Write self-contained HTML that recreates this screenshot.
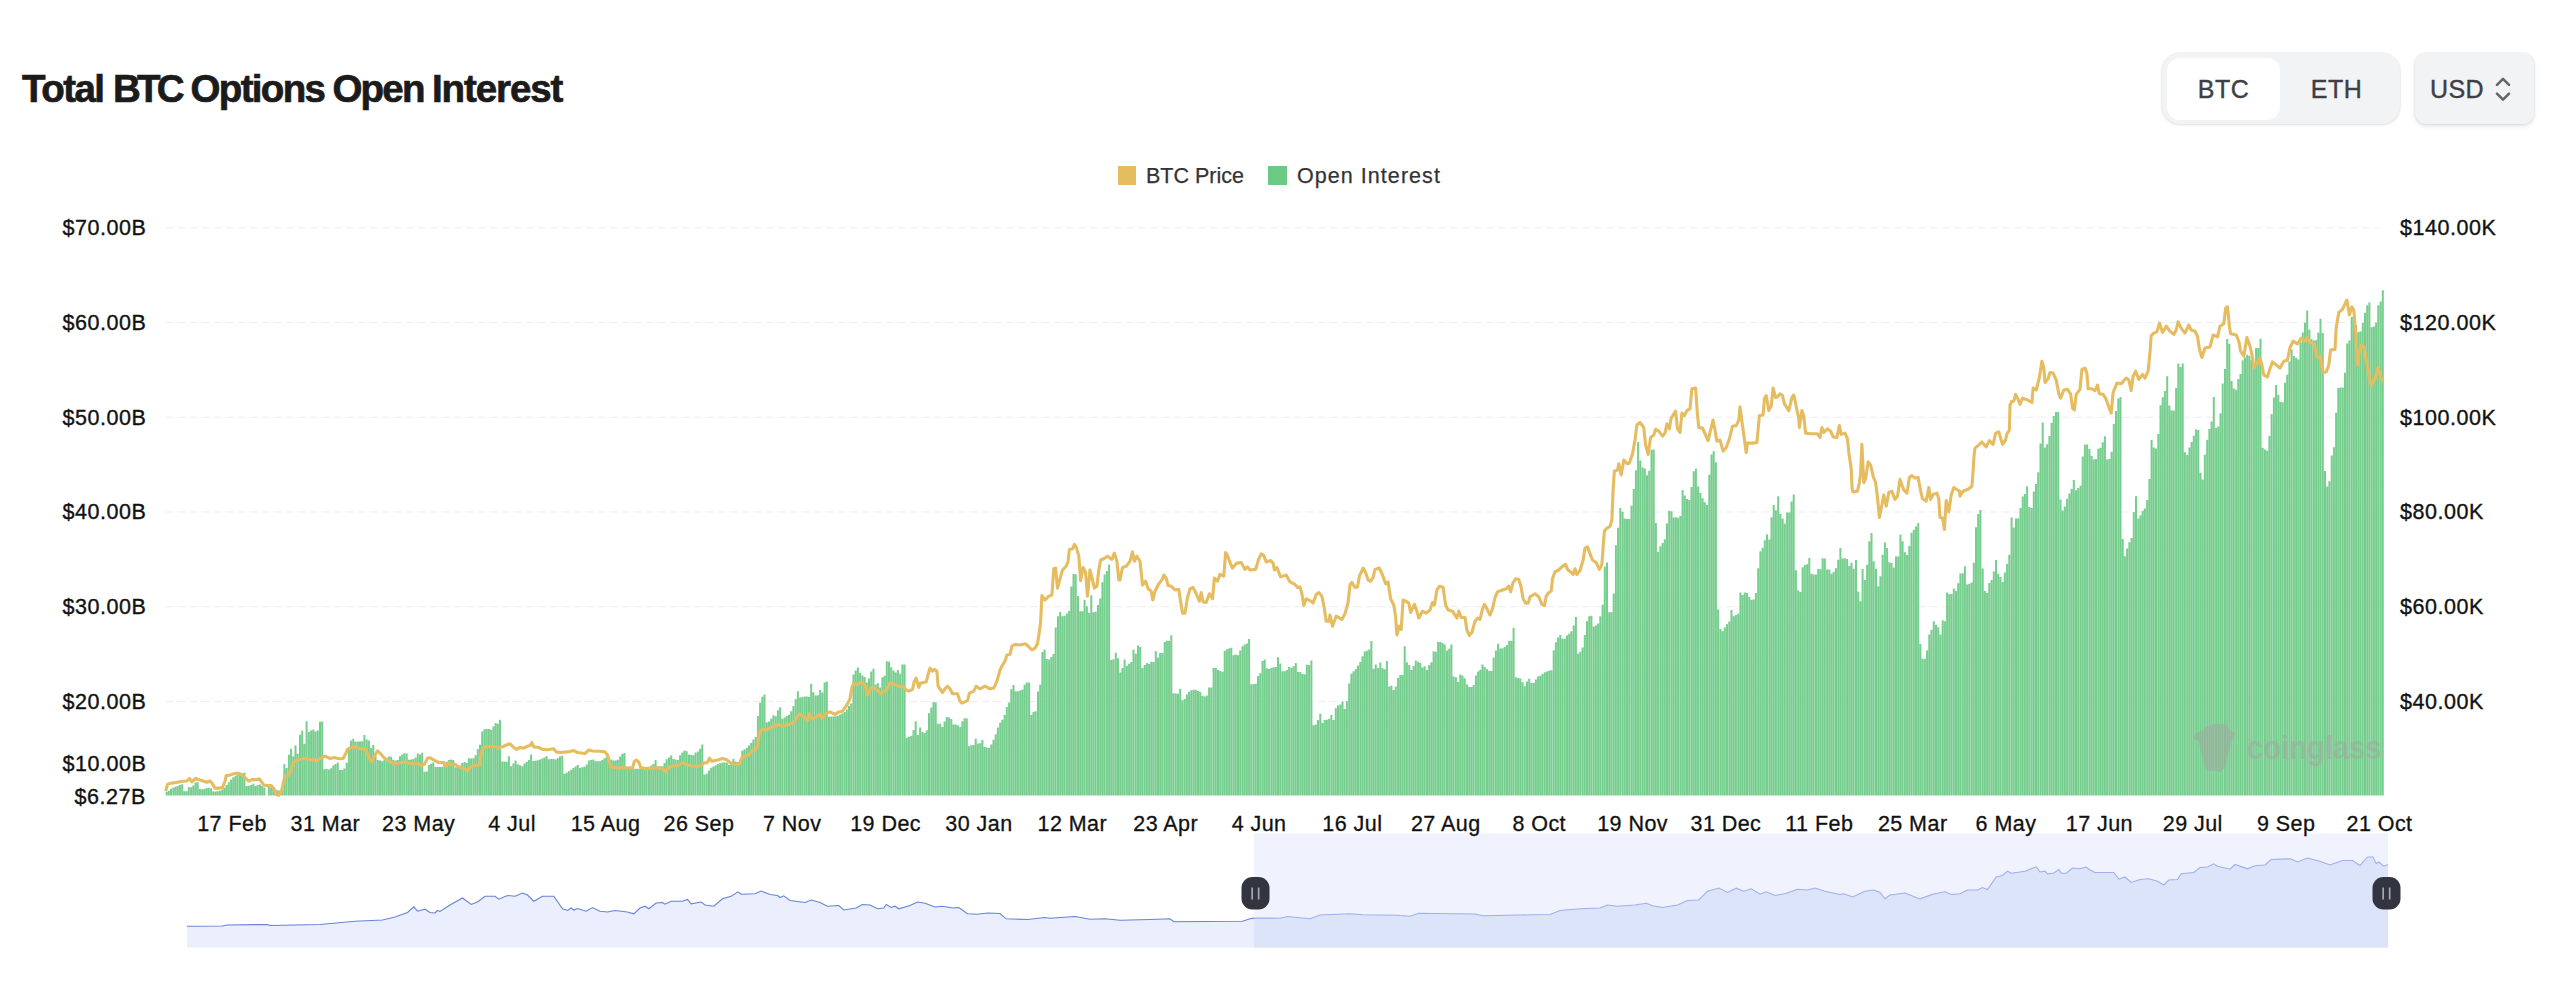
<!DOCTYPE html>
<html lang="en"><head><meta charset="utf-8"><title>Total BTC Options Open Interest</title>
<style>
html,body{margin:0;padding:0;background:#fff;}
body{width:2560px;height:999px;position:relative;overflow:hidden;font-family:"Liberation Sans",sans-serif;}
.title{position:absolute;left:0;top:66px;font-size:38.5px;line-height:46px;font-weight:700;color:#1b1b1b;white-space:nowrap;-webkit-text-stroke:.7px #1b1b1b;}
.title span{position:absolute;top:0;}
.seg{position:absolute;left:2162px;top:52.5px;width:237.5px;height:71.5px;border-radius:18px;background:#f1f3f5;box-shadow:0 1px 3px rgba(0,0,0,.10),0 0 0 1px rgba(0,0,0,.03);}
.seg .pill{position:absolute;left:5px;top:5.5px;width:113px;height:61.5px;border-radius:13px;background:#fff;}
.seg span{position:absolute;top:0;height:71.5px;line-height:72px;font-size:25px;letter-spacing:.5px;color:#3d3f45;-webkit-text-stroke:.4px #3d3f45;text-align:center;width:113px;}
.usd{position:absolute;left:2414.5px;top:53px;width:119.5px;height:71px;border-radius:11px;background:#f1f3f5;box-shadow:0 2px 4px rgba(0,0,0,.12),0 0 0 1px rgba(0,0,0,.03);}
.usd span{position:absolute;left:15.5px;top:0;line-height:72px;font-size:25px;letter-spacing:.4px;color:#3d3f45;-webkit-text-stroke:.4px #3d3f45;}
.usd svg{position:absolute;left:78.5px;top:21px;}
.legend{position:absolute;top:167px;left:0;height:19px;}
.legend i{position:absolute;top:-1px;width:18.5px;height:18.5px;}
.legend span{position:absolute;top:-4px;font-size:21.5px;line-height:26px;color:#333;white-space:nowrap;-webkit-text-stroke:.25px #333;}
svg.chart{position:absolute;left:0;top:0;}
.ax{font-family:"Liberation Sans",sans-serif;font-size:21.5px;fill:#111;letter-spacing:.55px;stroke:#111;stroke-width:.35px;}
.xl{font-family:"Liberation Sans",sans-serif;font-size:21.5px;fill:#111;letter-spacing:.45px;stroke:#111;stroke-width:.3px;}
</style></head><body>
<svg class="chart" width="2560" height="999" viewBox="0 0 2560 999"><line x1="165.6" x2="2380" y1="227.8" y2="227.8" stroke="#eeeeee" stroke-width="1" stroke-dasharray="8 4"/><line x1="165.6" x2="2380" y1="322.5" y2="322.5" stroke="#eeeeee" stroke-width="1" stroke-dasharray="8 4"/><line x1="165.6" x2="2380" y1="417.2" y2="417.2" stroke="#eeeeee" stroke-width="1" stroke-dasharray="8 4"/><line x1="165.6" x2="2380" y1="512" y2="512" stroke="#eeeeee" stroke-width="1" stroke-dasharray="8 4"/><line x1="165.6" x2="2380" y1="606.7" y2="606.7" stroke="#eeeeee" stroke-width="1" stroke-dasharray="8 4"/><line x1="165.6" x2="2380" y1="701.4" y2="701.4" stroke="#eeeeee" stroke-width="1" stroke-dasharray="8 4"/><path d="M165.6 795.5V791.9h2.0V795.5zM167.8 795.5V790.7h2.0V795.5zM170 795.5V788.8h2.0V795.5zM172.3 795.5V787.7h2.0V795.5zM174.5 795.5V786.7h2.0V795.5zM176.7 795.5V785.9h2.0V795.5zM178.9 795.5V785.1h2.0V795.5zM181.2 795.5V784.2h2.0V795.5zM183.4 795.5V791.2h2.0V795.5zM185.6 795.5V791.2h2.0V795.5zM187.8 795.5V787h2.0V795.5zM190.1 795.5V787.3h2.0V795.5zM192.3 795.5V785.5h2.0V795.5zM194.5 795.5V782.4h2.0V795.5zM196.7 795.5V782.3h2.0V795.5zM198.9 795.5V788.9h2.0V795.5zM201.2 795.5V789.2h2.0V795.5zM203.4 795.5V789h2.0V795.5zM205.6 795.5V788h2.0V795.5zM207.8 795.5V787.7h2.0V795.5zM210.1 795.5V788.3h2.0V795.5zM212.3 795.5V791.6h2.0V795.5zM214.5 795.5V791.5h2.0V795.5zM216.7 795.5V791.2h2.0V795.5zM218.9 795.5V790.8h2.0V795.5zM221.2 795.5V789.6h2.0V795.5zM223.4 795.5V787.7h2.0V795.5zM225.6 795.5V785.1h2.0V795.5zM227.8 795.5V782.3h2.0V795.5zM230.1 795.5V779.5h2.0V795.5zM232.3 795.5V777.3h2.0V795.5zM234.5 795.5V775.8h2.0V795.5zM236.7 795.5V774.7h2.0V795.5zM239 795.5V773.7h2.0V795.5zM241.2 795.5V773.2h2.0V795.5zM243.4 795.5V772.7h2.0V795.5zM245.6 795.5V786.1h2.0V795.5zM247.8 795.5V785.7h2.0V795.5zM250.1 795.5V784.9h2.0V795.5zM252.3 795.5V783.8h2.0V795.5zM254.5 795.5V786.1h2.0V795.5zM256.7 795.5V784.8h2.0V795.5zM259 795.5V784.6h2.0V795.5zM261.2 795.5V786h2.0V795.5zM263.4 795.5V787.4h2.0V795.5zM267.9 795.5V787.1h2.0V795.5zM270.1 795.5V787.6h2.0V795.5zM272.3 795.5V788.6h2.0V795.5zM274.5 795.5V789.6h2.0V795.5zM276.7 795.5V790.2h2.0V795.5zM279 795.5V790.5h2.0V795.5zM281.2 795.5V790.2h2.0V795.5zM283.4 795.5V764.2h2.0V795.5zM285.6 795.5V768.1h2.0V795.5zM287.9 795.5V754.7h2.0V795.5zM290.1 795.5V748.8h2.0V795.5zM292.3 795.5V756.2h2.0V795.5zM294.5 795.5V745.6h2.0V795.5zM296.7 795.5V753.8h2.0V795.5zM299 795.5V734.7h2.0V795.5zM301.2 795.5V730.7h2.0V795.5zM303.4 795.5V743.8h2.0V795.5zM305.6 795.5V721.2h2.0V795.5zM307.9 795.5V731.9h2.0V795.5zM310.1 795.5V730.6h2.0V795.5zM312.3 795.5V729.4h2.0V795.5zM314.5 795.5V731.5h2.0V795.5zM316.8 795.5V730.6h2.0V795.5zM319 795.5V721.7h2.0V795.5zM321.2 795.5V721.4h2.0V795.5zM323.4 795.5V769.2h2.0V795.5zM325.6 795.5V768.9h2.0V795.5zM327.9 795.5V769.5h2.0V795.5zM330.1 795.5V768.3h2.0V795.5zM332.3 795.5V765.6h2.0V795.5zM334.5 795.5V763.9h2.0V795.5zM336.8 795.5V762.5h2.0V795.5zM339 795.5V770h2.0V795.5zM341.2 795.5V770h2.0V795.5zM343.4 795.5V768.5h2.0V795.5zM345.7 795.5V762.7h2.0V795.5zM347.9 795.5V749.1h2.0V795.5zM350.1 795.5V740.4h2.0V795.5zM352.3 795.5V738.8h2.0V795.5zM354.5 795.5V741.8h2.0V795.5zM356.8 795.5V741.6h2.0V795.5zM359 795.5V741.5h2.0V795.5zM361.2 795.5V741.3h2.0V795.5zM363.4 795.5V735h2.0V795.5zM365.7 795.5V739.5h2.0V795.5zM367.9 795.5V740.5h2.0V795.5zM370.1 795.5V748.1h2.0V795.5zM372.3 795.5V745h2.0V795.5zM374.5 795.5V756.1h2.0V795.5zM376.8 795.5V760.1h2.0V795.5zM379 795.5V760.6h2.0V795.5zM381.2 795.5V761.2h2.0V795.5zM383.4 795.5V759.8h2.0V795.5zM385.7 795.5V758.1h2.0V795.5zM387.9 795.5V756.6h2.0V795.5zM390.1 795.5V756.7h2.0V795.5zM392.3 795.5V759.8h2.0V795.5zM394.6 795.5V760.4h2.0V795.5zM396.8 795.5V760.1h2.0V795.5zM399 795.5V756.2h2.0V795.5zM401.2 795.5V754.4h2.0V795.5zM403.4 795.5V753.2h2.0V795.5zM405.7 795.5V753.6h2.0V795.5zM407.9 795.5V759.8h2.0V795.5zM410.1 795.5V759.4h2.0V795.5zM412.3 795.5V759h2.0V795.5zM414.6 795.5V757.4h2.0V795.5zM416.8 795.5V753.4h2.0V795.5zM419 795.5V754.5h2.0V795.5zM421.2 795.5V752.7h2.0V795.5zM423.5 795.5V771.7h2.0V795.5zM425.7 795.5V771.4h2.0V795.5zM427.9 795.5V764.9h2.0V795.5zM430.1 795.5V763.7h2.0V795.5zM432.3 795.5V762.5h2.0V795.5zM434.6 795.5V766.9h2.0V795.5zM436.8 795.5V766.9h2.0V795.5zM439 795.5V766.9h2.0V795.5zM441.2 795.5V766.8h2.0V795.5zM443.5 795.5V764.2h2.0V795.5zM445.7 795.5V761.7h2.0V795.5zM447.9 795.5V759.9h2.0V795.5zM450.1 795.5V759.6h2.0V795.5zM452.3 795.5V760h2.0V795.5zM454.6 795.5V767.2h2.0V795.5zM456.8 795.5V766.7h2.0V795.5zM459 795.5V765.5h2.0V795.5zM461.2 795.5V762.9h2.0V795.5zM463.5 795.5V761.9h2.0V795.5zM465.7 795.5V763.1h2.0V795.5zM467.9 795.5V758.2h2.0V795.5zM470.1 795.5V758.5h2.0V795.5zM472.4 795.5V758.2h2.0V795.5zM474.6 795.5V755.2h2.0V795.5zM476.8 795.5V748.9h2.0V795.5zM479 795.5V744.7h2.0V795.5zM481.2 795.5V731.4h2.0V795.5zM483.5 795.5V729.2h2.0V795.5zM485.7 795.5V728.9h2.0V795.5zM487.9 795.5V729.1h2.0V795.5zM490.1 795.5V729.8h2.0V795.5zM492.4 795.5V726.4h2.0V795.5zM494.6 795.5V723.1h2.0V795.5zM496.8 795.5V723.7h2.0V795.5zM499 795.5V719.8h2.0V795.5zM501.2 795.5V761.4h2.0V795.5zM503.5 795.5V761.6h2.0V795.5zM505.7 795.5V761.8h2.0V795.5zM507.9 795.5V756.2h2.0V795.5zM510.1 795.5V766.2h2.0V795.5zM512.4 795.5V763.4h2.0V795.5zM514.6 795.5V760.6h2.0V795.5zM516.8 795.5V764.2h2.0V795.5zM519 795.5V765.2h2.0V795.5zM521.3 795.5V766.2h2.0V795.5zM523.5 795.5V763.4h2.0V795.5zM525.7 795.5V761.7h2.0V795.5zM527.9 795.5V760.1h2.0V795.5zM530.1 795.5V754.4h2.0V795.5zM532.4 795.5V761.1h2.0V795.5zM534.6 795.5V760.7h2.0V795.5zM536.8 795.5V760.3h2.0V795.5zM539 795.5V759.6h2.0V795.5zM541.3 795.5V758.5h2.0V795.5zM543.5 795.5V757.4h2.0V795.5zM545.7 795.5V756.2h2.0V795.5zM547.9 795.5V759.3h2.0V795.5zM550.2 795.5V759.1h2.0V795.5zM552.4 795.5V758.9h2.0V795.5zM554.6 795.5V759.6h2.0V795.5zM556.8 795.5V758.1h2.0V795.5zM559 795.5V756.2h2.0V795.5zM561.3 795.5V755.8h2.0V795.5zM563.5 795.5V773.8h2.0V795.5zM565.7 795.5V772.7h2.0V795.5zM567.9 795.5V771.2h2.0V795.5zM570.2 795.5V769.7h2.0V795.5zM572.4 795.5V768.1h2.0V795.5zM574.6 795.5V766.6h2.0V795.5zM576.8 795.5V765h2.0V795.5zM579 795.5V768h2.0V795.5zM581.3 795.5V767.3h2.0V795.5zM583.5 795.5V766.7h2.0V795.5zM585.7 795.5V764.6h2.0V795.5zM587.9 795.5V760.5h2.0V795.5zM590.2 795.5V760h2.0V795.5zM592.4 795.5V759.4h2.0V795.5zM594.6 795.5V761.2h2.0V795.5zM596.8 795.5V761.2h2.0V795.5zM599.1 795.5V761.2h2.0V795.5zM601.3 795.5V760.1h2.0V795.5zM603.5 795.5V758.2h2.0V795.5zM605.7 795.5V756.9h2.0V795.5zM607.9 795.5V756.9h2.0V795.5zM610.2 795.5V759.5h2.0V795.5zM612.4 795.5V760.6h2.0V795.5zM614.6 795.5V760.6h2.0V795.5zM616.8 795.5V759.7h2.0V795.5zM619.1 795.5V756.5h2.0V795.5zM621.3 795.5V754h2.0V795.5zM623.5 795.5V753h2.0V795.5zM625.7 795.5V767.8h2.0V795.5zM628 795.5V768.5h2.0V795.5zM630.2 795.5V768.8h2.0V795.5zM632.4 795.5V768.8h2.0V795.5zM634.6 795.5V768.8h2.0V795.5zM636.8 795.5V768.8h2.0V795.5zM639.1 795.5V768.8h2.0V795.5zM641.3 795.5V768.5h2.0V795.5zM643.5 795.5V768.1h2.0V795.5zM645.7 795.5V767.8h2.0V795.5zM648 795.5V767.1h2.0V795.5zM650.2 795.5V765.6h2.0V795.5zM652.4 795.5V764.1h2.0V795.5zM654.6 795.5V760h2.0V795.5zM656.8 795.5V766.2h2.0V795.5zM659.1 795.5V766.2h2.0V795.5zM661.3 795.5V766.2h2.0V795.5zM663.5 795.5V763.1h2.0V795.5zM665.7 795.5V759.2h2.0V795.5zM668 795.5V757.4h2.0V795.5zM670.2 795.5V755.6h2.0V795.5zM672.4 795.5V758.9h2.0V795.5zM674.6 795.5V759.4h2.0V795.5zM676.9 795.5V759.9h2.0V795.5zM679.1 795.5V755.3h2.0V795.5zM681.3 795.5V752.4h2.0V795.5zM683.5 795.5V750.6h2.0V795.5zM685.7 795.5V751.2h2.0V795.5zM688 795.5V754.6h2.0V795.5zM690.2 795.5V755.1h2.0V795.5zM692.4 795.5V755.3h2.0V795.5zM694.6 795.5V752.5h2.0V795.5zM696.9 795.5V751.4h2.0V795.5zM699.1 795.5V748.8h2.0V795.5zM701.3 795.5V744.6h2.0V795.5zM703.5 795.5V774.6h2.0V795.5zM705.8 795.5V773.8h2.0V795.5zM708 795.5V770.6h2.0V795.5zM710.2 795.5V767.8h2.0V795.5zM712.4 795.5V766.5h2.0V795.5zM714.6 795.5V765.2h2.0V795.5zM716.9 795.5V764h2.0V795.5zM719.1 795.5V763.2h2.0V795.5zM721.3 795.5V762.5h2.0V795.5zM723.5 795.5V762.5h2.0V795.5zM725.8 795.5V762.5h2.0V795.5zM728 795.5V765h2.0V795.5zM730.2 795.5V761.9h2.0V795.5zM732.4 795.5V758.8h2.0V795.5zM734.6 795.5V761.5h2.0V795.5zM736.9 795.5V762h2.0V795.5zM739.1 795.5V762.5h2.0V795.5zM741.3 795.5V750.7h2.0V795.5zM743.5 795.5V749.2h2.0V795.5zM745.8 795.5V747.8h2.0V795.5zM748 795.5V745.4h2.0V795.5zM750.2 795.5V742.9h2.0V795.5zM752.4 795.5V739.5h2.0V795.5zM754.7 795.5V736.9h2.0V795.5zM756.9 795.5V716.1h2.0V795.5zM759.1 795.5V702.8h2.0V795.5zM761.3 795.5V696.8h2.0V795.5zM763.5 795.5V694.6h2.0V795.5zM765.8 795.5V722.2h2.0V795.5zM768 795.5V721.5h2.0V795.5zM770.2 795.5V718.7h2.0V795.5zM772.4 795.5V715.2h2.0V795.5zM774.7 795.5V716.2h2.0V795.5zM776.9 795.5V710.3h2.0V795.5zM779.1 795.5V707.2h2.0V795.5zM781.3 795.5V718.8h2.0V795.5zM783.6 795.5V717.4h2.0V795.5zM785.8 795.5V716.1h2.0V795.5zM788 795.5V714.7h2.0V795.5zM790.2 795.5V711.3h2.0V795.5zM792.4 795.5V705.9h2.0V795.5zM794.7 795.5V699.2h2.0V795.5zM796.9 795.5V691.3h2.0V795.5zM799.1 795.5V697.5h2.0V795.5zM801.3 795.5V697.1h2.0V795.5zM803.6 795.5V696.6h2.0V795.5zM805.8 795.5V696.4h2.0V795.5zM808 795.5V697.1h2.0V795.5zM810.2 795.5V683.8h2.0V795.5zM812.4 795.5V692.3h2.0V795.5zM814.7 795.5V695.5h2.0V795.5zM816.9 795.5V695.2h2.0V795.5zM819.1 795.5V690h2.0V795.5zM821.3 795.5V692.5h2.0V795.5zM823.6 795.5V682.4h2.0V795.5zM825.8 795.5V681.4h2.0V795.5zM828 795.5V716.8h2.0V795.5zM830.2 795.5V716.6h2.0V795.5zM832.5 795.5V716.5h2.0V795.5zM834.7 795.5V716.3h2.0V795.5zM836.9 795.5V715.7h2.0V795.5zM839.1 795.5V714.6h2.0V795.5zM841.3 795.5V713.5h2.0V795.5zM843.6 795.5V712h2.0V795.5zM845.8 795.5V709.5h2.0V795.5zM848 795.5V706.1h2.0V795.5zM850.2 795.5V703.6h2.0V795.5zM852.5 795.5V674.4h2.0V795.5zM854.7 795.5V670.4h2.0V795.5zM856.9 795.5V667.5h2.0V795.5zM859.1 795.5V672.7h2.0V795.5zM861.4 795.5V675.4h2.0V795.5zM863.6 795.5V676.9h2.0V795.5zM865.8 795.5V682.5h2.0V795.5zM868 795.5V678.4h2.0V795.5zM870.2 795.5V671.6h2.0V795.5zM872.5 795.5V668.8h2.0V795.5zM874.7 795.5V684.4h2.0V795.5zM876.9 795.5V683.2h2.0V795.5zM879.1 795.5V687.5h2.0V795.5zM881.4 795.5V677.2h2.0V795.5zM883.6 795.5V675.8h2.0V795.5zM885.8 795.5V661.3h2.0V795.5zM888 795.5V661.7h2.0V795.5zM890.2 795.5V667.2h2.0V795.5zM892.5 795.5V670.4h2.0V795.5zM894.7 795.5V672.5h2.0V795.5zM896.9 795.5V670h2.0V795.5zM899.1 795.5V673.7h2.0V795.5zM901.4 795.5V664.4h2.0V795.5zM903.6 795.5V664.4h2.0V795.5zM905.8 795.5V737.7h2.0V795.5zM908 795.5V736.8h2.0V795.5zM910.3 795.5V735.7h2.0V795.5zM912.5 795.5V729.9h2.0V795.5zM914.7 795.5V721.2h2.0V795.5zM916.9 795.5V735h2.0V795.5zM919.1 795.5V727.5h2.0V795.5zM921.4 795.5V732h2.0V795.5zM923.6 795.5V732.9h2.0V795.5zM925.8 795.5V730.2h2.0V795.5zM928 795.5V713.3h2.0V795.5zM930.3 795.5V707.6h2.0V795.5zM932.5 795.5V702h2.0V795.5zM934.7 795.5V702.5h2.0V795.5zM936.9 795.5V723.8h2.0V795.5zM939.2 795.5V723.8h2.0V795.5zM941.4 795.5V726.9h2.0V795.5zM943.6 795.5V721.4h2.0V795.5zM945.8 795.5V716.9h2.0V795.5zM948 795.5V717.4h2.0V795.5zM950.3 795.5V719h2.0V795.5zM952.5 795.5V724.4h2.0V795.5zM954.7 795.5V724.4h2.0V795.5zM956.9 795.5V725.3h2.0V795.5zM959.2 795.5V726.9h2.0V795.5zM961.4 795.5V721.2h2.0V795.5zM963.6 795.5V718.2h2.0V795.5zM965.8 795.5V718.6h2.0V795.5zM968 795.5V746.3h2.0V795.5zM970.3 795.5V745.2h2.0V795.5zM972.5 795.5V745h2.0V795.5zM974.7 795.5V738.8h2.0V795.5zM976.9 795.5V743.6h2.0V795.5zM979.2 795.5V743.2h2.0V795.5zM981.4 795.5V740h2.0V795.5zM983.6 795.5V747.1h2.0V795.5zM985.8 795.5V747.6h2.0V795.5zM988.1 795.5V748h2.0V795.5zM990.3 795.5V744.4h2.0V795.5zM992.5 795.5V739.8h2.0V795.5zM994.7 795.5V734.3h2.0V795.5zM996.9 795.5V727.5h2.0V795.5zM999.2 795.5V722.8h2.0V795.5zM1001.4 795.5V719.7h2.0V795.5zM1003.6 795.5V714.9h2.0V795.5zM1005.8 795.5V706.9h2.0V795.5zM1008.1 795.5V702.5h2.0V795.5zM1010.3 795.5V689.2h2.0V795.5zM1012.5 795.5V685h2.0V795.5zM1014.7 795.5V691.2h2.0V795.5zM1016.9 795.5V691.2h2.0V795.5zM1019.2 795.5V690.6h2.0V795.5zM1021.4 795.5V689.5h2.0V795.5zM1023.6 795.5V684.8h2.0V795.5zM1025.8 795.5V682.4h2.0V795.5zM1028.1 795.5V682.4h2.0V795.5zM1030.3 795.5V715h2.0V795.5zM1032.5 795.5V712.1h2.0V795.5zM1034.7 795.5V711.2h2.0V795.5zM1037 795.5V691.6h2.0V795.5zM1039.2 795.5V684.8h2.0V795.5zM1041.4 795.5V651.9h2.0V795.5zM1043.6 795.5V649.4h2.0V795.5zM1045.8 795.5V658.9h2.0V795.5zM1048.1 795.5V659.6h2.0V795.5zM1050.3 795.5V656.9h2.0V795.5zM1052.5 795.5V654h2.0V795.5zM1054.7 795.5V627.4h2.0V795.5zM1057 795.5V616.2h2.0V795.5zM1059.2 795.5V611.9h2.0V795.5zM1061.4 795.5V616.2h2.0V795.5zM1063.6 795.5V615.7h2.0V795.5zM1065.9 795.5V613.5h2.0V795.5zM1068.1 795.5V611.1h2.0V795.5zM1070.3 795.5V586.6h2.0V795.5zM1072.5 795.5V573.9h2.0V795.5zM1074.7 795.5V574.2h2.0V795.5zM1077 795.5V595.9h2.0V795.5zM1079.2 795.5V611.2h2.0V795.5zM1081.4 795.5V611.2h2.0V795.5zM1083.6 795.5V600.1h2.0V795.5zM1085.9 795.5V606.2h2.0V795.5zM1088.1 795.5V613.1h2.0V795.5zM1090.3 795.5V595.3h2.0V795.5zM1092.5 795.5V612.2h2.0V795.5zM1094.7 795.5V611.6h2.0V795.5zM1097 795.5V605h2.0V795.5zM1099.2 795.5V598.4h2.0V795.5zM1101.4 795.5V582.2h2.0V795.5zM1103.6 795.5V574.5h2.0V795.5zM1105.9 795.5V570.9h2.0V795.5zM1108.1 795.5V564.6h2.0V795.5zM1110.3 795.5V660h2.0V795.5zM1112.5 795.5V659.3h2.0V795.5zM1114.8 795.5V652.8h2.0V795.5zM1117 795.5V658.2h2.0V795.5zM1119.2 795.5V672.5h2.0V795.5zM1121.4 795.5V668.1h2.0V795.5zM1123.6 795.5V659.4h2.0V795.5zM1125.9 795.5V665.7h2.0V795.5zM1128.1 795.5V663.7h2.0V795.5zM1130.3 795.5V662.1h2.0V795.5zM1132.5 795.5V649.4h2.0V795.5zM1134.8 795.5V653.8h2.0V795.5zM1137 795.5V645.6h2.0V795.5zM1139.2 795.5V647.1h2.0V795.5zM1141.4 795.5V668.1h2.0V795.5zM1143.7 795.5V665h2.0V795.5zM1145.9 795.5V662.9h2.0V795.5zM1148.1 795.5V664h2.0V795.5zM1150.3 795.5V661.7h2.0V795.5zM1152.5 795.5V661.9h2.0V795.5zM1154.8 795.5V651.2h2.0V795.5zM1157 795.5V657.5h2.0V795.5zM1159.2 795.5V653.1h2.0V795.5zM1161.4 795.5V653.1h2.0V795.5zM1163.7 795.5V642h2.0V795.5zM1165.9 795.5V640.7h2.0V795.5zM1168.1 795.5V641.1h2.0V795.5zM1170.3 795.5V635.2h2.0V795.5zM1172.5 795.5V693.2h2.0V795.5zM1174.8 795.5V693.5h2.0V795.5zM1177 795.5V693.7h2.0V795.5zM1179.2 795.5V688.8h2.0V795.5zM1181.4 795.5V700.3h2.0V795.5zM1183.7 795.5V698.9h2.0V795.5zM1185.9 795.5V694.4h2.0V795.5zM1188.1 795.5V691.7h2.0V795.5zM1190.3 795.5V690.3h2.0V795.5zM1192.6 795.5V689.7h2.0V795.5zM1194.8 795.5V689.8h2.0V795.5zM1197 795.5V690.9h2.0V795.5zM1199.2 795.5V691.9h2.0V795.5zM1201.4 795.5V695.8h2.0V795.5zM1203.7 795.5V696.6h2.0V795.5zM1205.9 795.5V695.4h2.0V795.5zM1208.1 795.5V687.5h2.0V795.5zM1210.3 795.5V687.5h2.0V795.5zM1212.6 795.5V667.7h2.0V795.5zM1214.8 795.5V668.1h2.0V795.5zM1217 795.5V669.9h2.0V795.5zM1219.2 795.5V671.1h2.0V795.5zM1221.5 795.5V671.8h2.0V795.5zM1223.7 795.5V650.7h2.0V795.5zM1225.9 795.5V649.2h2.0V795.5zM1228.1 795.5V648.4h2.0V795.5zM1230.3 795.5V647.8h2.0V795.5zM1232.6 795.5V655.3h2.0V795.5zM1234.8 795.5V654.5h2.0V795.5zM1237 795.5V655.2h2.0V795.5zM1239.2 795.5V650.4h2.0V795.5zM1241.5 795.5V646.3h2.0V795.5zM1243.7 795.5V644.5h2.0V795.5zM1245.9 795.5V643.6h2.0V795.5zM1248.1 795.5V639h2.0V795.5zM1250.3 795.5V684.3h2.0V795.5zM1252.6 795.5V684h2.0V795.5zM1254.8 795.5V683.8h2.0V795.5zM1257 795.5V676h2.0V795.5zM1259.2 795.5V673.3h2.0V795.5zM1261.5 795.5V661.1h2.0V795.5zM1263.7 795.5V659.4h2.0V795.5zM1265.9 795.5V668.2h2.0V795.5zM1268.1 795.5V669h2.0V795.5zM1270.4 795.5V667.9h2.0V795.5zM1272.6 795.5V667.3h2.0V795.5zM1274.8 795.5V666.9h2.0V795.5zM1277 795.5V657.2h2.0V795.5zM1279.2 795.5V663.6h2.0V795.5zM1281.5 795.5V671.2h2.0V795.5zM1283.7 795.5V671.2h2.0V795.5zM1285.9 795.5V669.9h2.0V795.5zM1288.1 795.5V666.9h2.0V795.5zM1290.4 795.5V667.8h2.0V795.5zM1292.6 795.5V666.2h2.0V795.5zM1294.8 795.5V663.1h2.0V795.5zM1297 795.5V671.9h2.0V795.5zM1299.3 795.5V671.9h2.0V795.5zM1301.5 795.5V674h2.0V795.5zM1303.7 795.5V674.3h2.0V795.5zM1305.9 795.5V664.8h2.0V795.5zM1308.1 795.5V665h2.0V795.5zM1310.4 795.5V660.6h2.0V795.5zM1312.6 795.5V725.2h2.0V795.5zM1314.8 795.5V724.4h2.0V795.5zM1317 795.5V720h2.0V795.5zM1319.3 795.5V713.8h2.0V795.5zM1321.5 795.5V723.1h2.0V795.5zM1323.7 795.5V720h2.0V795.5zM1325.9 795.5V719.7h2.0V795.5zM1328.1 795.5V718.8h2.0V795.5zM1330.4 795.5V715h2.0V795.5zM1332.6 795.5V720h2.0V795.5zM1334.8 795.5V708.2h2.0V795.5zM1337 795.5V705.4h2.0V795.5zM1339.3 795.5V704.4h2.0V795.5zM1341.5 795.5V701.5h2.0V795.5zM1343.7 795.5V709.1h2.0V795.5zM1345.9 795.5V701.3h2.0V795.5zM1348.2 795.5V683.5h2.0V795.5zM1350.4 795.5V673.8h2.0V795.5zM1352.6 795.5V671.3h2.0V795.5zM1354.8 795.5V668.9h2.0V795.5zM1357 795.5V665.4h2.0V795.5zM1359.3 795.5V661.9h2.0V795.5zM1361.5 795.5V656.2h2.0V795.5zM1363.7 795.5V651.5h2.0V795.5zM1365.9 795.5V650.8h2.0V795.5zM1368.2 795.5V649.6h2.0V795.5zM1370.4 795.5V640.9h2.0V795.5zM1372.6 795.5V668.7h2.0V795.5zM1374.8 795.5V664.4h2.0V795.5zM1377.1 795.5V668.1h2.0V795.5zM1379.3 795.5V662.5h2.0V795.5zM1381.5 795.5V668.3h2.0V795.5zM1383.7 795.5V669.2h2.0V795.5zM1385.9 795.5V660.9h2.0V795.5zM1388.2 795.5V686.5h2.0V795.5zM1390.4 795.5V685.8h2.0V795.5zM1392.6 795.5V690h2.0V795.5zM1394.8 795.5V686.4h2.0V795.5zM1397.1 795.5V677.7h2.0V795.5zM1399.3 795.5V675h2.0V795.5zM1401.5 795.5V675h2.0V795.5zM1403.7 795.5V646.2h2.0V795.5zM1405.9 795.5V662.3h2.0V795.5zM1408.2 795.5V665.1h2.0V795.5zM1410.4 795.5V670h2.0V795.5zM1412.6 795.5V666.1h2.0V795.5zM1414.8 795.5V660.6h2.0V795.5zM1417.1 795.5V661.8h2.0V795.5zM1419.3 795.5V663.1h2.0V795.5zM1421.5 795.5V667.4h2.0V795.5zM1423.7 795.5V666.3h2.0V795.5zM1426 795.5V670h2.0V795.5zM1428.2 795.5V664.9h2.0V795.5zM1430.4 795.5V662.2h2.0V795.5zM1432.6 795.5V651.3h2.0V795.5zM1434.8 795.5V651.7h2.0V795.5zM1437.1 795.5V641.9h2.0V795.5zM1439.3 795.5V641.9h2.0V795.5zM1441.5 795.5V643h2.0V795.5zM1443.7 795.5V644.4h2.0V795.5zM1446 795.5V650.6h2.0V795.5zM1448.2 795.5V648.8h2.0V795.5zM1450.4 795.5V644.4h2.0V795.5zM1452.6 795.5V676.6h2.0V795.5zM1454.9 795.5V677.3h2.0V795.5zM1457.1 795.5V681.9h2.0V795.5zM1459.3 795.5V674.6h2.0V795.5zM1461.5 795.5V675.6h2.0V795.5zM1463.7 795.5V678.2h2.0V795.5zM1466 795.5V684.5h2.0V795.5zM1468.2 795.5V686.9h2.0V795.5zM1470.4 795.5V686.9h2.0V795.5zM1472.6 795.5V685.1h2.0V795.5zM1474.9 795.5V675.5h2.0V795.5zM1477.1 795.5V671.5h2.0V795.5zM1479.3 795.5V669.8h2.0V795.5zM1481.5 795.5V664.4h2.0V795.5zM1483.7 795.5V667.1h2.0V795.5zM1486 795.5V669.3h2.0V795.5zM1488.2 795.5V670.8h2.0V795.5zM1490.4 795.5V671.1h2.0V795.5zM1492.6 795.5V657.5h2.0V795.5zM1494.9 795.5V650.4h2.0V795.5zM1497.1 795.5V643.8h2.0V795.5zM1499.3 795.5V648.6h2.0V795.5zM1501.5 795.5V648.2h2.0V795.5zM1503.8 795.5V646.9h2.0V795.5zM1506 795.5V645h2.0V795.5zM1508.2 795.5V640.7h2.0V795.5zM1510.4 795.5V641.1h2.0V795.5zM1512.6 795.5V627.8h2.0V795.5zM1514.9 795.5V677.2h2.0V795.5zM1517.1 795.5V677.9h2.0V795.5zM1519.3 795.5V678.6h2.0V795.5zM1521.5 795.5V682.2h2.0V795.5zM1523.8 795.5V686.2h2.0V795.5zM1526 795.5V681.6h2.0V795.5zM1528.2 795.5V678.8h2.0V795.5zM1530.4 795.5V683.1h2.0V795.5zM1532.7 795.5V683.1h2.0V795.5zM1534.9 795.5V679.5h2.0V795.5zM1537.1 795.5V676.6h2.0V795.5zM1539.3 795.5V675.7h2.0V795.5zM1541.5 795.5V674h2.0V795.5zM1543.8 795.5V672.3h2.0V795.5zM1546 795.5V671.5h2.0V795.5zM1548.2 795.5V670.6h2.0V795.5zM1550.4 795.5V670.2h2.0V795.5zM1552.7 795.5V650.2h2.0V795.5zM1554.9 795.5V642.3h2.0V795.5zM1557.1 795.5V637.4h2.0V795.5zM1559.3 795.5V635h2.0V795.5zM1561.5 795.5V638.8h2.0V795.5zM1563.8 795.5V638.8h2.0V795.5zM1566 795.5V635.5h2.0V795.5zM1568.2 795.5V633.7h2.0V795.5zM1570.4 795.5V631.2h2.0V795.5zM1572.7 795.5V625.4h2.0V795.5zM1574.9 795.5V616.9h2.0V795.5zM1577.1 795.5V653.7h2.0V795.5zM1579.3 795.5V651.7h2.0V795.5zM1581.6 795.5V647.4h2.0V795.5zM1583.8 795.5V635.1h2.0V795.5zM1586 795.5V621.3h2.0V795.5zM1588.2 795.5V616.2h2.0V795.5zM1590.4 795.5V615.8h2.0V795.5zM1592.7 795.5V626.4h2.0V795.5zM1594.9 795.5V625.5h2.0V795.5zM1597.1 795.5V623.4h2.0V795.5zM1599.3 795.5V616.3h2.0V795.5zM1601.6 795.5V604.8h2.0V795.5zM1603.8 795.5V566.6h2.0V795.5zM1606 795.5V562.4h2.0V795.5zM1608.2 795.5V612.3h2.0V795.5zM1610.4 795.5V612h2.0V795.5zM1612.7 795.5V593.5h2.0V795.5zM1614.9 795.5V545.3h2.0V795.5zM1617.1 795.5V527.8h2.0V795.5zM1619.3 795.5V508h2.0V795.5zM1621.6 795.5V511.8h2.0V795.5zM1623.8 795.5V518.5h2.0V795.5zM1626 795.5V519.1h2.0V795.5zM1628.2 795.5V519h2.0V795.5zM1630.5 795.5V505.6h2.0V795.5zM1632.7 795.5V489.1h2.0V795.5zM1634.9 795.5V470.3h2.0V795.5zM1637.1 795.5V441.9h2.0V795.5zM1639.3 795.5V460.4h2.0V795.5zM1641.6 795.5V467.5h2.0V795.5zM1643.8 795.5V468.5h2.0V795.5zM1646 795.5V475.2h2.0V795.5zM1648.2 795.5V470.7h2.0V795.5zM1650.5 795.5V449.8h2.0V795.5zM1652.7 795.5V449.5h2.0V795.5zM1654.9 795.5V522.9h2.0V795.5zM1657.1 795.5V551.9h2.0V795.5zM1659.4 795.5V546.2h2.0V795.5zM1661.6 795.5V543h2.0V795.5zM1663.8 795.5V539.3h2.0V795.5zM1666 795.5V523.4h2.0V795.5zM1668.2 795.5V510.8h2.0V795.5zM1670.5 795.5V511.2h2.0V795.5zM1672.7 795.5V517.5h2.0V795.5zM1674.9 795.5V517.2h2.0V795.5zM1677.1 795.5V517.7h2.0V795.5zM1679.4 795.5V515.9h2.0V795.5zM1681.6 795.5V490h2.0V795.5zM1683.8 795.5V495.6h2.0V795.5zM1686 795.5V499.1h2.0V795.5zM1688.2 795.5V500h2.0V795.5zM1690.5 795.5V486.9h2.0V795.5zM1692.7 795.5V471.3h2.0V795.5zM1694.9 795.5V468.8h2.0V795.5zM1697.1 795.5V486.2h2.0V795.5zM1699.4 795.5V493.1h2.0V795.5zM1701.6 795.5V498.3h2.0V795.5zM1703.8 795.5V502.2h2.0V795.5zM1706 795.5V505h2.0V795.5zM1708.3 795.5V474.7h2.0V795.5zM1710.5 795.5V454.6h2.0V795.5zM1712.7 795.5V451.2h2.0V795.5zM1714.9 795.5V462.2h2.0V795.5zM1717.1 795.5V609.5h2.0V795.5zM1719.4 795.5V628.9h2.0V795.5zM1721.6 795.5V631.2h2.0V795.5zM1723.8 795.5V627.6h2.0V795.5zM1726 795.5V624.3h2.0V795.5zM1728.3 795.5V621.6h2.0V795.5zM1730.5 795.5V610h2.0V795.5zM1732.7 795.5V616.2h2.0V795.5zM1734.9 795.5V615h2.0V795.5zM1737.2 795.5V613.7h2.0V795.5zM1739.4 795.5V592.5h2.0V795.5zM1741.6 795.5V595h2.0V795.5zM1743.8 795.5V592.5h2.0V795.5zM1746 795.5V592.9h2.0V795.5zM1748.3 795.5V596.9h2.0V795.5zM1750.5 795.5V599.8h2.0V795.5zM1752.7 795.5V599.5h2.0V795.5zM1754.9 795.5V592.9h2.0V795.5zM1757.2 795.5V568.2h2.0V795.5zM1759.4 795.5V551.2h2.0V795.5zM1761.6 795.5V547.8h2.0V795.5zM1763.8 795.5V540.3h2.0V795.5zM1766 795.5V534.4h2.0V795.5zM1768.3 795.5V539.4h2.0V795.5zM1770.5 795.5V517.2h2.0V795.5zM1772.7 795.5V505h2.0V795.5zM1774.9 795.5V510.3h2.0V795.5zM1777.2 795.5V496.2h2.0V795.5zM1779.4 795.5V514.1h2.0V795.5zM1781.6 795.5V518.4h2.0V795.5zM1783.8 795.5V523.5h2.0V795.5zM1786.1 795.5V512.5h2.0V795.5zM1788.3 795.5V512.5h2.0V795.5zM1790.5 795.5V501.6h2.0V795.5zM1792.7 795.5V494.4h2.0V795.5zM1794.9 795.5V570.3h2.0V795.5zM1797.2 795.5V590.3h2.0V795.5zM1799.4 795.5V591.9h2.0V795.5zM1801.6 795.5V567.2h2.0V795.5zM1803.8 795.5V565h2.0V795.5zM1806.1 795.5V564.2h2.0V795.5zM1808.3 795.5V558.1h2.0V795.5zM1810.5 795.5V573.7h2.0V795.5zM1812.7 795.5V574.4h2.0V795.5zM1815 795.5V574.4h2.0V795.5zM1817.2 795.5V568.9h2.0V795.5zM1819.4 795.5V569.2h2.0V795.5zM1821.6 795.5V558.3h2.0V795.5zM1823.8 795.5V558.6h2.0V795.5zM1826.1 795.5V569.4h2.0V795.5zM1828.3 795.5V569.4h2.0V795.5zM1830.5 795.5V573.8h2.0V795.5zM1832.7 795.5V571.7h2.0V795.5zM1835 795.5V568.3h2.0V795.5zM1837.2 795.5V559.8h2.0V795.5zM1839.4 795.5V548.1h2.0V795.5zM1841.6 795.5V558.6h2.0V795.5zM1843.8 795.5V558.2h2.0V795.5zM1846.1 795.5V558.9h2.0V795.5zM1848.3 795.5V565.9h2.0V795.5zM1850.5 795.5V562.7h2.0V795.5zM1852.7 795.5V568.8h2.0V795.5zM1855 795.5V560h2.0V795.5zM1857.2 795.5V591.6h2.0V795.5zM1859.4 795.5V601.2h2.0V795.5zM1861.6 795.5V569.1h2.0V795.5zM1863.9 795.5V580h2.0V795.5zM1866.1 795.5V564.7h2.0V795.5zM1868.3 795.5V541.2h2.0V795.5zM1870.5 795.5V533.1h2.0V795.5zM1872.7 795.5V561.2h2.0V795.5zM1875 795.5V568.8h2.0V795.5zM1877.2 795.5V586.2h2.0V795.5zM1879.4 795.5V576.2h2.0V795.5zM1881.6 795.5V554.7h2.0V795.5zM1883.9 795.5V542.5h2.0V795.5zM1886.1 795.5V548.1h2.0V795.5zM1888.3 795.5V562.3h2.0V795.5zM1890.5 795.5V563h2.0V795.5zM1892.8 795.5V567.5h2.0V795.5zM1895 795.5V556.5h2.0V795.5zM1897.2 795.5V556.6h2.0V795.5zM1899.4 795.5V534.4h2.0V795.5zM1901.6 795.5V541.2h2.0V795.5zM1903.9 795.5V552.2h2.0V795.5zM1906.1 795.5V555h2.0V795.5zM1908.3 795.5V545.9h2.0V795.5zM1910.5 795.5V532.8h2.0V795.5zM1912.8 795.5V529.8h2.0V795.5zM1915 795.5V526.6h2.0V795.5zM1917.2 795.5V523.1h2.0V795.5zM1919.4 795.5V644.1h2.0V795.5zM1921.6 795.5V658.8h2.0V795.5zM1923.9 795.5V658.8h2.0V795.5zM1926.1 795.5V650.3h2.0V795.5zM1928.3 795.5V634.4h2.0V795.5zM1930.5 795.5V629.7h2.0V795.5zM1932.8 795.5V621.2h2.0V795.5zM1935 795.5V624.8h2.0V795.5zM1937.2 795.5V627.2h2.0V795.5zM1939.4 795.5V634.4h2.0V795.5zM1941.7 795.5V620.2h2.0V795.5zM1943.9 795.5V621.2h2.0V795.5zM1946.1 795.5V592.5h2.0V795.5zM1948.3 795.5V594.2h2.0V795.5zM1950.5 795.5V593.9h2.0V795.5zM1952.8 795.5V588.6h2.0V795.5zM1955 795.5V591.1h2.0V795.5zM1957.2 795.5V583.2h2.0V795.5zM1959.4 795.5V573.6h2.0V795.5zM1961.7 795.5V573.3h2.0V795.5zM1963.9 795.5V566.2h2.0V795.5zM1966.1 795.5V584.6h2.0V795.5zM1968.3 795.5V583.8h2.0V795.5zM1970.6 795.5V582.5h2.0V795.5zM1972.8 795.5V562.8h2.0V795.5zM1975 795.5V527.2h2.0V795.5zM1977.2 795.5V514.1h2.0V795.5zM1979.4 795.5V510h2.0V795.5zM1981.7 795.5V568.4h2.0V795.5zM1983.9 795.5V591h2.0V795.5zM1986.1 795.5V593.1h2.0V795.5zM1988.3 795.5V583.1h2.0V795.5zM1990.6 795.5V579.9h2.0V795.5zM1992.8 795.5V571.4h2.0V795.5zM1995 795.5V560h2.0V795.5zM1997.2 795.5V573.8h2.0V795.5zM1999.4 795.5V577.1h2.0V795.5zM2001.7 795.5V581.9h2.0V795.5zM2003.9 795.5V572.6h2.0V795.5zM2006.1 795.5V564.1h2.0V795.5zM2008.3 795.5V554.7h2.0V795.5zM2010.6 795.5V517.5h2.0V795.5zM2012.8 795.5V527.5h2.0V795.5zM2015 795.5V518.6h2.0V795.5zM2017.2 795.5V518.2h2.0V795.5zM2019.5 795.5V507.9h2.0V795.5zM2021.7 795.5V496.4h2.0V795.5zM2023.9 795.5V494.1h2.0V795.5zM2026.1 795.5V486.2h2.0V795.5zM2028.3 795.5V506.9h2.0V795.5zM2030.6 795.5V508.1h2.0V795.5zM2032.8 795.5V491.6h2.0V795.5zM2035 795.5V484.1h2.0V795.5zM2037.2 795.5V472.2h2.0V795.5zM2039.5 795.5V443.6h2.0V795.5zM2041.7 795.5V422.5h2.0V795.5zM2043.9 795.5V447.5h2.0V795.5zM2046.1 795.5V444.2h2.0V795.5zM2048.4 795.5V436h2.0V795.5zM2050.6 795.5V422.8h2.0V795.5zM2052.8 795.5V415.9h2.0V795.5zM2055 795.5V411.9h2.0V795.5zM2057.2 795.5V411.9h2.0V795.5zM2059.5 795.5V499.4h2.0V795.5zM2061.7 795.5V510.6h2.0V795.5zM2063.9 795.5V506.4h2.0V795.5zM2066.1 795.5V498.8h2.0V795.5zM2068.4 795.5V493.4h2.0V795.5zM2070.6 795.5V488.8h2.0V795.5zM2072.8 795.5V480h2.0V795.5zM2075 795.5V490.3h2.0V795.5zM2077.2 795.5V487.9h2.0V795.5zM2079.5 795.5V485.8h2.0V795.5zM2081.7 795.5V456.6h2.0V795.5zM2083.9 795.5V444.4h2.0V795.5zM2086.1 795.5V444.4h2.0V795.5zM2088.4 795.5V449h2.0V795.5zM2090.6 795.5V456h2.0V795.5zM2092.8 795.5V459.4h2.0V795.5zM2095 795.5V459h2.0V795.5zM2097.3 795.5V448.7h2.0V795.5zM2099.5 795.5V447.8h2.0V795.5zM2101.7 795.5V442.2h2.0V795.5zM2103.9 795.5V436.2h2.0V795.5zM2106.1 795.5V459.4h2.0V795.5zM2108.4 795.5V459.1h2.0V795.5zM2110.6 795.5V451.7h2.0V795.5zM2112.8 795.5V424.1h2.0V795.5zM2115 795.5V410.9h2.0V795.5zM2117.3 795.5V398.5h2.0V795.5zM2119.5 795.5V396.9h2.0V795.5zM2121.7 795.5V539.1h2.0V795.5zM2123.9 795.5V556.2h2.0V795.5zM2126.1 795.5V548.4h2.0V795.5zM2128.4 795.5V542.2h2.0V795.5zM2130.6 795.5V537.9h2.0V795.5zM2132.8 795.5V511.9h2.0V795.5zM2135 795.5V496.2h2.0V795.5zM2137.3 795.5V518.4h2.0V795.5zM2139.5 795.5V515.2h2.0V795.5zM2141.7 795.5V510.8h2.0V795.5zM2143.9 795.5V508.5h2.0V795.5zM2146.2 795.5V500h2.0V795.5zM2148.4 795.5V479.1h2.0V795.5zM2150.6 795.5V440h2.0V795.5zM2152.8 795.5V447.4h2.0V795.5zM2155 795.5V448.4h2.0V795.5zM2157.3 795.5V434.1h2.0V795.5zM2159.5 795.5V405.3h2.0V795.5zM2161.7 795.5V397.2h2.0V795.5zM2163.9 795.5V390.9h2.0V795.5zM2166.2 795.5V376.2h2.0V795.5zM2168.4 795.5V405.4h2.0V795.5zM2170.6 795.5V410.6h2.0V795.5zM2172.8 795.5V410.6h2.0V795.5zM2175.1 795.5V388.1h2.0V795.5zM2177.3 795.5V363.5h2.0V795.5zM2179.5 795.5V366.9h2.0V795.5zM2181.7 795.5V363.5h2.0V795.5zM2183.9 795.5V452.3h2.0V795.5zM2186.2 795.5V455h2.0V795.5zM2188.4 795.5V447.6h2.0V795.5zM2190.6 795.5V442.1h2.0V795.5zM2192.8 795.5V435.8h2.0V795.5zM2195.1 795.5V429.2h2.0V795.5zM2197.3 795.5V430.1h2.0V795.5zM2199.5 795.5V472.8h2.0V795.5zM2201.7 795.5V479.4h2.0V795.5zM2203.9 795.5V454.7h2.0V795.5zM2206.2 795.5V439.8h2.0V795.5zM2208.4 795.5V429.1h2.0V795.5zM2210.6 795.5V421.6h2.0V795.5zM2212.8 795.5V396.9h2.0V795.5zM2215.1 795.5V427.8h2.0V795.5zM2217.3 795.5V426.6h2.0V795.5zM2219.5 795.5V413.2h2.0V795.5zM2221.7 795.5V383.4h2.0V795.5zM2224 795.5V369.1h2.0V795.5zM2226.2 795.5V339h2.0V795.5zM2228.4 795.5V343.8h2.0V795.5zM2230.6 795.5V380.9h2.0V795.5zM2232.8 795.5V388.5h2.0V795.5zM2235.1 795.5V389.8h2.0V795.5zM2237.3 795.5V379.1h2.0V795.5zM2239.5 795.5V374.1h2.0V795.5zM2241.7 795.5V360.3h2.0V795.5zM2244 795.5V357.5h2.0V795.5zM2246.2 795.5V354.7h2.0V795.5zM2248.4 795.5V355.7h2.0V795.5zM2250.6 795.5V359.9h2.0V795.5zM2252.9 795.5V367.5h2.0V795.5zM2255.1 795.5V348.1h2.0V795.5zM2257.3 795.5V348.1h2.0V795.5zM2259.5 795.5V338.8h2.0V795.5zM2261.7 795.5V447.8h2.0V795.5zM2264 795.5V449.6h2.0V795.5zM2266.2 795.5V450.8h2.0V795.5zM2268.4 795.5V435.9h2.0V795.5zM2270.6 795.5V414.1h2.0V795.5zM2272.9 795.5V397.5h2.0V795.5zM2275.1 795.5V385h2.0V795.5zM2277.3 795.5V394.7h2.0V795.5zM2279.5 795.5V402h2.0V795.5zM2281.7 795.5V402.3h2.0V795.5zM2284 795.5V382.8h2.0V795.5zM2286.2 795.5V374.7h2.0V795.5zM2288.4 795.5V361.6h2.0V795.5zM2290.6 795.5V349.4h2.0V795.5zM2292.9 795.5V355.9h2.0V795.5zM2295.1 795.5V357.8h2.0V795.5zM2297.3 795.5V359.4h2.0V795.5zM2299.5 795.5V342.2h2.0V795.5zM2301.8 795.5V332.5h2.0V795.5zM2304 795.5V322.8h2.0V795.5zM2306.2 795.5V310.6h2.0V795.5zM2308.4 795.5V329.4h2.0V795.5zM2310.6 795.5V339.3h2.0V795.5zM2312.9 795.5V340.5h2.0V795.5zM2315.1 795.5V340.2h2.0V795.5zM2317.3 795.5V332.8h2.0V795.5zM2319.5 795.5V318.8h2.0V795.5zM2321.8 795.5V333.1h2.0V795.5zM2324 795.5V470.9h2.0V795.5zM2326.2 795.5V486.5h2.0V795.5zM2328.4 795.5V481.2h2.0V795.5zM2330.7 795.5V455.6h2.0V795.5zM2332.9 795.5V447.2h2.0V795.5zM2335.1 795.5V412.8h2.0V795.5zM2337.3 795.5V387.9h2.0V795.5zM2339.5 795.5V387.5h2.0V795.5zM2341.8 795.5V387.5h2.0V795.5zM2344 795.5V372.8h2.0V795.5zM2346.2 795.5V343.4h2.0V795.5zM2348.4 795.5V340.4h2.0V795.5zM2350.7 795.5V317.1h2.0V795.5zM2352.9 795.5V316.3h2.0V795.5zM2355.1 795.5V325h2.0V795.5zM2357.3 795.5V332.3h2.0V795.5zM2359.5 795.5V331.6h2.0V795.5zM2361.8 795.5V322.8h2.0V795.5zM2364 795.5V312.8h2.0V795.5zM2366.2 795.5V305.3h2.0V795.5zM2368.4 795.5V302.5h2.0V795.5zM2370.7 795.5V327.3h2.0V795.5zM2372.9 795.5V326.4h2.0V795.5zM2375.1 795.5V322.5h2.0V795.5zM2377.3 795.5V305.3h2.0V795.5zM2379.6 795.5V301.6h2.0V795.5zM2381.8 795.5V290.2h2.0V795.5z" fill="#76ce8e"/><g opacity="0.5" fill="#a3a3a3"><path d="M2206.2 727.4L2215.9 724.4L2226 724.9L2229.1 730.5L2234.6 734L2233.1 738.6L2230.1 740.6L2229.1 748.8L2226 756.9L2225 766L2220.9 771.1L2214.8 770.1L2207.7 770.1L2204.7 765L2203.700 756.9L2200.6 747.7L2199.6 740.6L2194.5 738.6L2195.5 734.5L2202.700 731.5Z" stroke="#a3a3a3" stroke-width="1.500" stroke-linejoin="round"/><text x="2247" y="759" font-family="Liberation Sans, sans-serif" font-weight="700" font-size="34" textLength="134.500" lengthAdjust="spacingAndGlyphs">coinglass</text></g><path d="M166 790L167.5 784.4L171.2 783.1L176.2 782.5L182.5 781.2L186.9 781L189.4 778.5L191.9 781.9L195.6 778.5L200 780L203.8 781.2L206.9 782.2L210 781L212.5 783.8L215 788.1L218.8 788.1L222.5 787.5L225 781.2L226.2 775.6L230 775L233.8 773.8L238.1 773.1L242.5 775L246.2 778.8L248.8 781.2L252.5 779.4L256.2 779.8L259.4 778.8L261.9 782.5L263.8 785L267.5 785.6L271.2 785.6L274.4 789.4L276.2 794.4L278.8 795.2L281.2 792.5L283.1 783.8L285 776.2L288.8 775L291.2 768.8L293.8 762.5L297.5 760L302.5 758.8L306.2 758.5L310 760L313.8 759.4L316.2 761.2L320 758.5L325 756.2L330 758.5L334.4 757.5L338.8 758.8L343.1 758.5L345.6 753.8L347.5 749.4L351.2 747.5L356.2 746.9L360 748.8L365 748.8L368.1 755L370.6 761.2L372.5 761.2L375 755L377.5 751L380 753.1L383.8 757.5L387.5 760L391.2 762.5L395 763.8L400 763.1L403.8 761.9L408.8 763.1L413.8 763.8L417.5 763.1L421.2 765.6L424.4 764.4L427.5 758.1L430 757.8L435 760.6L438.8 762.5L443.8 762.5L446.2 766.9L448.8 762.5L451.2 765L455 764.4L460 767.5L465 768.8L467.5 771.2L470 767.5L473.8 765.6L479.6 765L480 761.2L481.2 752.5L483.8 747.5L487.5 746.5L492.5 746.9L496.2 746.5L498.8 748.1L502.5 746.9L506.2 745L510 743.8L513.1 746.9L516.2 749.4L520 747.5L523.8 748.1L527.5 746.2L530 745.6L531.9 742.5L533.8 746.9L538.8 747.5L542.5 749.4L547.5 749.8L553.8 748.8L556.2 751.9L560 752.5L567.5 751.9L573.8 750.6L577.5 752.5L585 753.5L588.8 750L592.5 751L600 751.2L605 751.9L607.5 755L609.4 762.5L611.2 766.9L615 767.8L621.2 767.5L626.2 767.8L632.5 768.1L634.4 761.2L636.2 760L638.8 761.9L640.6 767.5L645 768.5L652.5 768.1L657.5 767.8L662.5 768.8L665.6 771.9L668.8 767.5L672.5 766L678.8 765L683.1 762.5L687.5 765L692.5 766L698.8 766.2L703.8 763.1L707.5 762.5L709.4 758.1L711.9 761.2L717.5 760L722.5 758.5L726.2 759.4L730 762.5L735 764.4L739.4 764L741.9 757.5L745 756.2L748.8 755L751.9 751L755 750L757.5 746.2L759.4 732.5L761.9 729.4L766.2 730L771.2 727.5L777.5 724.4L782.5 726.2L788.8 724.4L793.8 722.5L797.5 716.2L799.6 714.4L800 714.4L805 717.5L807.5 720.6L809.4 713.8L812.5 718.8L816.2 716.9L820 714.4L822.5 718.8L824.4 714.4L830 711.9L835 714.4L838.8 711.9L842.5 711.2L846.2 706.2L850 698.8L851.9 687.5L853.8 683.1L857.5 684.4L861.2 682.5L865 685L867.5 695L871.2 687.5L875 688.1L881.2 693.8L886.2 690L890 683.1L893.8 683.8L898.8 686.2L903.8 686.9L906.2 690L908.8 691.2L912.5 689.4L914.4 681.2L916.2 678.1L918.8 687.5L920.6 683.1L926.2 681.9L928.8 671.9L930 668.1L932.5 671.2L934.4 669.4L936.9 671.2L938.1 686.2L942.5 692.5L945 688.8L947.5 686.2L950 688.8L952.5 693.8L957.5 693.8L960 701.2L961.9 703.1L967.5 700.6L969.4 693.1L973.8 691.2L976.2 686.2L980 688.8L985 686.2L990 688.8L993.8 688.1L996.9 681.2L1000 670L1002.5 665L1005 661.2L1006.9 655L1010 654.4L1011.9 646.2L1015 644.4L1020 645L1025.6 643.8L1028.8 646.9L1031.9 650L1035 648.1L1037.5 643.8L1039.4 631.2L1040.6 622.5L1041.9 595.6L1045 600L1048.8 596.2L1051.9 595L1053.8 568.8L1055.6 568.1L1057.5 588.1L1060 578.8L1062.5 570L1066.2 566.2L1068.1 561.2L1069.4 549.4L1072.5 548.8L1074.4 544.4L1076.2 546.9L1078.8 556.2L1080.6 580.6L1083.1 567.5L1085.6 572.5L1087.5 596.2L1090 570L1092.5 580L1094.4 588.1L1096.9 586.2L1098.8 570L1100.6 560L1103.8 558.8L1107.5 556.2L1111.9 559.4L1114.4 553.1L1116.9 561.2L1118.8 580L1119.4 578.8L1120 580L1122.5 567.5L1126.2 566.2L1130 561.2L1132.5 551.9L1134.4 561.2L1136.9 556.2L1140 561.2L1142.5 585L1145.6 581.2L1148.1 588.8L1151.2 591.2L1152.8 600L1155 591.2L1158.8 583.8L1162.5 578.8L1163.8 575L1166.2 578.1L1168.1 585.6L1171.2 586.2L1175 590L1178.8 589.4L1180.6 601.2L1182.5 613.1L1185 613.1L1187.5 597.5L1190 588.8L1193.1 587.5L1196.2 593.8L1199.4 601.2L1201.2 592.5L1203.1 601.9L1206.2 602.5L1209.4 593.8L1212.5 598.8L1214.4 578.1L1217.5 581.2L1220 574.4L1223.8 576.2L1225.6 552.5L1227.5 555.6L1230 562.5L1232.5 568.1L1236.9 563.1L1241.2 562.5L1245 569.4L1247.5 566.9L1250 570L1255.6 569.4L1258.8 558.8L1261.2 553.8L1263.8 555.6L1266.2 561.9L1270.6 560.6L1273.1 563.1L1274.4 570L1276.9 567.5L1280.6 576.9L1286.2 575L1290 581.9L1295 584.4L1297.5 587.5L1300 586.9L1301.9 593.8L1303.8 605.6L1306.2 598.8L1310 600.6L1313.1 603.1L1316.2 594.4L1318.8 592.5L1321.9 596.2L1324.4 608.8L1326.2 621.2L1328.8 621.2L1330 615L1332.5 626.2L1336.2 616.2L1341.9 619.4L1345 613.8L1348.1 602.5L1350 585L1351.9 582.5L1355 587.5L1357.5 586.9L1359.4 576.2L1363.1 568.1L1365.6 572.5L1368.1 580L1370.6 581.2L1373.1 577.5L1375 569.4L1379.4 568.1L1382.5 575L1385.6 583.8L1388.1 581.9L1390.6 598.8L1393.8 605L1395.6 616.2L1396.9 635L1399.4 626.2L1401.2 629.4L1403.1 600L1405.6 601.2L1408.8 603.1L1410.6 612.5L1414.4 604.4L1416.9 611.2L1418.8 618.1L1422.5 611.2L1426.2 613.1L1430 610L1432.5 602.5L1434.4 605L1436.9 590L1439.6 586.2L1440 586.2L1443.1 587.5L1445.6 605L1448.1 610L1452.5 611.2L1456.9 618.1L1458.8 611.2L1461.2 617.5L1465 617.5L1466.9 630L1469.4 635.6L1471.9 632.5L1475 621.2L1477.5 618.1L1480 619.4L1482.5 608.8L1484.4 604.4L1486.9 608.8L1490 615L1492.5 608.8L1495 597.5L1497.5 591.9L1502.5 590L1506.2 588.8L1508.8 586.2L1510.6 591.9L1513.1 582.5L1515.6 578.8L1518.8 579.4L1521.2 587.5L1523.1 598.8L1525.6 603.1L1528.1 603.1L1530 596.9L1535 593.8L1538.8 596.9L1541.9 604.4L1544.4 605.6L1546.2 596.2L1548.8 592.5L1551.2 591.2L1552.5 578.8L1555 571.9L1558.8 570L1561.9 566.9L1565.6 564.4L1567.5 569.4L1571.2 572.5L1573.1 574.4L1575 568.8L1576.9 574.4L1580 570.6L1583.1 560L1585 548.1L1587.5 546.9L1590 553.8L1592.5 560L1596.2 562.5L1599.4 569.4L1601.9 564.4L1603.1 547.5L1604.4 531.2L1606.2 528.8L1610 526.2L1611.9 520L1613.1 490L1614.4 471.2L1617.5 470L1618.8 463.8L1621.2 475L1623.8 460L1627.5 463.8L1629.4 463.1L1632.5 453.8L1635 440L1636.9 425L1640 422.5L1643.8 427.5L1645.6 445L1648.1 454.4L1650.6 437.5L1653.8 435L1655.6 429.4L1658.8 431.2L1662.5 436.2L1665 433.1L1666.9 423.8L1669.4 428.8L1671.2 418.1L1675.6 411.2L1677.5 428.8L1680 432.5L1681.9 413.1L1684.4 415.6L1686.9 410.6L1690 408.8L1691.9 388.8L1695.6 388.1L1697.5 415L1698.8 427.5L1702.5 428.1L1705.6 435L1708.1 440.6L1710.6 430L1713.1 420L1715 430L1716.9 441.2L1720 440L1723.1 451.2L1726.2 447.5L1729.4 438.8L1732.5 426.2L1736.2 425.6L1738.8 420L1740 406.9L1741.9 421.2L1743.8 435L1746.2 452.5L1747.5 443.1L1752.5 443.1L1756.9 442.5L1759.4 415.6L1763.1 415L1764.4 398.8L1766.2 395.6L1768.8 410.6L1771.2 406.2L1773.1 388.1L1775.6 397.5L1777.5 396.9L1780 393.8L1782.5 395.6L1784.4 403.8L1788.8 410.6L1791.9 397.5L1793.8 395L1796.2 406.2L1798.8 418.8L1799.4 427.5L1801.9 410.6L1803.8 416.2L1805.6 433.1L1810 433.8L1817.5 433.8L1820 437.5L1821.9 427.5L1823.8 432.5L1827.5 428.8L1830.6 431.2L1833.1 436.9L1836.9 437.5L1839.4 425.6L1841.2 434.4L1845 433.1L1847.5 438.8L1848.8 452.5L1851.2 468.8L1852.1 488.8L1853.1 491.9L1857.5 491.2L1859.4 482.5L1860.6 473.8L1861.9 444.4L1863.8 482.5L1865.6 478.8L1868.1 461.9L1870.6 465L1873.1 476.2L1875.6 482.5L1877.5 497.5L1879.4 517.5L1881.9 505L1883.8 495L1886.2 506.2L1888.8 492.5L1891.9 491.2L1895 499.4L1897.5 496.2L1900 479.4L1901.9 485L1903.8 490L1906.9 493.1L1909.4 477.5L1911.9 475.6L1915 478.1L1918.1 477.5L1920.6 490.6L1922.5 498.8L1926.2 501.2L1928.8 487.5L1930.6 499.4L1933.1 494.4L1936.9 493.1L1938.8 498.8L1940 517.5L1942.5 518.1L1944.4 529.4L1946.2 500.6L1948.8 511.9L1951.2 495L1953.8 487.5L1957.5 490L1959.6 491.2L1960 496.2L1963.1 491.2L1966.2 490L1968.8 488.8L1971.9 486.2L1973.1 471.2L1974 456.2L1975 448.1L1978.8 445L1981.9 441.9L1986.2 446.9L1989.4 440.6L1993.1 444.4L1995.6 433.1L1998.8 431.9L2002.5 444.4L2005.6 440L2006.9 433.8L2009.4 430L2010 405L2011.9 401.2L2013.8 401.2L2015.6 394.4L2018.1 399.4L2020 404.4L2022.5 398.1L2027.5 400L2031.9 402.5L2033.1 388.1L2036.2 390L2039.4 377.5L2041.9 361.2L2043.8 367.5L2045 382.5L2048.1 378.8L2050 372.5L2053.1 373.1L2056.2 380L2058.8 393.8L2060.6 398.1L2063.8 390L2067.5 389.4L2070.6 393.8L2072.5 408.1L2074.4 410L2076.2 394.4L2080 389.4L2081.9 369.4L2085 368.1L2086.9 373.1L2088.1 388.8L2091.9 388.8L2095 390.6L2097.5 385L2099.4 393.8L2103.1 394.4L2105.6 398.1L2108.1 405L2111.2 413.1L2113.1 392.5L2116.9 383.1L2121.2 383.8L2126.2 378.1L2128.8 380L2131.2 390.6L2133.1 376.2L2135.6 371.2L2138.8 379.4L2142.5 374.4L2145 378.1L2148.1 371.2L2150 352.5L2151.2 335.6L2153.8 333.1L2156.9 331.9L2159.4 323.1L2162.5 332.5L2166.2 326.2L2170 331.2L2173.8 334.4L2176.2 330L2178.1 321.9L2181.2 328.1L2185 333.1L2188.8 325L2191.2 330L2195 331.2L2197.5 336.2L2199.4 348.8L2201.9 357.5L2205 348.1L2210 346.9L2213.1 335L2217.5 336.9L2220 326.2L2223.8 323.8L2225.6 308.1L2227.5 306.9L2229.4 326.2L2230.6 333.8L2236.2 335L2238.8 341.2L2240.6 351.2L2243.8 356.2L2246.9 337.5L2250 346.2L2252.5 357.5L2253.8 367.5L2257.5 362.5L2260 358.1L2261.9 365L2263.8 375L2267.5 376.9L2270 368.8L2272.5 361.9L2276.2 365L2280 368.1L2283.8 361.2L2287.5 360L2290 347.5L2293.1 341.2L2297.5 343.8L2301.2 338.1L2305 341.2L2306.9 337.5L2310 342.5L2314.4 343.8L2316.2 355L2318.8 358.1L2320.6 355.6L2322.5 372.5L2326.2 371.9L2328.8 365L2330.6 350L2335 349.4L2336.2 327.5L2338.8 312.5L2342.5 309.4L2345 303.8L2346.9 300L2349.4 315L2351.9 306.9L2353.8 310L2355.6 332.5L2357.5 365L2359.4 350L2361.2 345L2363.8 346.2L2366.2 360L2368.8 375L2371.2 385.6L2375 378.8L2378.1 367.5L2380.6 377.5L2382.8 380" fill="none" stroke="#e6bc60" stroke-width="3.1" stroke-linejoin="round" stroke-linecap="round"/><text x="62.5" y="235.2" class="ax">$70.00B</text><text x="62.5" y="329.9" class="ax">$60.00B</text><text x="62.5" y="424.6" class="ax">$50.00B</text><text x="62.5" y="519.4" class="ax">$40.00B</text><text x="62.5" y="614.1" class="ax">$30.00B</text><text x="62.5" y="708.8" class="ax">$20.00B</text><text x="62.5" y="770.6" class="ax">$10.00B</text><text x="74.5" y="803.6" class="ax">$6.27B</text><text x="2400" y="235.2" class="ax">$140.00K</text><text x="2400" y="329.9" class="ax">$120.00K</text><text x="2400" y="424.6" class="ax">$100.00K</text><text x="2400" y="519.4" class="ax">$80.00K</text><text x="2400" y="614.1" class="ax">$60.00K</text><text x="2400" y="708.8" class="ax">$40.00K</text><rect x="1254" y="833.5" width="1134" height="114" fill="#f0f2fe"/><path d="M187 926.2L222.5 926L227.5 925L267.5 924.5L270 925.5L320 924.5L355 921.2L382.5 920L395 917L407.5 912.5L413.8 906.8L417.5 911.2L425 909.2L430 912.5L435 913L437.5 910.5L440 911.5L450 905L462.5 898L471.2 904.5L477.5 902L485 896.2L495 896.2L498.8 899.2L507.5 895.5L515 896.2L522.5 893L527.5 895L533.8 901.2L542.5 896.2L553.8 896.2L562.5 908.8L567.5 910.5L571.2 908L573.8 910L577.5 908.5L586.2 911.2L592.5 907.5L600 911.2L607.5 912L615 910.5L627.5 912L633.8 913.8L640 908L645 906.2L648.8 908.8L656.2 903L662.5 902.5L665 904.2L671.2 901.2L682.5 901.2L687.5 899.5L691.2 903.8L701.2 902L705 905L713.8 906.2L722.5 898.8L731.2 896.2L738 891.8L741.2 894.2L755 893.8L761.2 891L770 894.5L777.5 895.5L780 897.5L783.8 895.8L790 900.5L805 902.5L811.2 900L820 902.5L827.5 906.2L838.8 905.5L843.8 910L856.2 908L862.5 904.5L870 905L877.5 908.8L883.8 908L886.2 904.5L891.2 907.5L895 906.2L898.8 908.8L910 905.5L917.5 902L925 903.2L935 907L942.5 906.2L952.5 908L958.8 907.5L967.5 913.8L977.5 914.2L987.5 913L1000 913.5L1006.2 918.8L1027.5 919.5L1045 917.5L1050 918.2L1075 916.5L1090 919.2L1105 918.8L1120 920.2L1150 919.5L1170 918.8L1173.8 921.8L1205 921.5L1242.5 921.2L1250 918.8L1255 918L1280 918.2L1287.5 916.5L1310 918.8L1320 915L1350 913.8L1362.5 914.8L1397.5 915.2L1400 915.5L1410 916.2L1418.8 913.2L1475 914L1482.5 915.8L1520 915L1550 914.5L1560 910.5L1580 908.8L1600 908L1607.5 905L1617.5 906.2L1635 905L1646.2 903.2L1652.5 905.8L1662.5 907.5L1677.5 905L1687.5 900.5L1698.8 900L1707.5 891.2L1718.8 888L1727.5 892.5L1736.2 888.2L1743.8 891.2L1751.2 888.8L1760 894.2L1766.2 891.8L1775 895.5L1785 893.8L1797.5 889.2L1807.5 890L1815 888L1825 891.2L1840 894.5L1843.8 893.8L1852.5 897L1865 891.2L1873.8 890L1880 892.5L1885 898.8L1890 895L1905 893L1917.5 898L1920 898.8L1932.5 894.2L1945 891.8L1951.2 894.5L1960 893.8L1967.5 890L1977.5 890L1982.5 887.5L1987.5 889.5L1996.2 877L2002.5 875.5L2007.5 871.2L2011.2 873.2L2025 871.2L2036.2 866.8L2040 872L2045 871.2L2047.5 873.8L2053.8 873L2058.8 869.5L2061.2 873.2L2066.2 873.2L2072.5 868L2080 868.8L2086.2 867L2090 870L2095 872.5L2113.8 872.5L2118.8 879.2L2125 877L2131.2 882.5L2140 879.5L2148.8 878.8L2157.5 881.2L2163.8 885L2168.8 880L2177.5 879.5L2181.2 873.8L2193.8 872.5L2200 867.5L2207.5 867L2213.8 863.8L2217.5 866.2L2230 869.2L2235 864.5L2247.5 868.8L2255 865.8L2265 865L2271.2 859.5L2290 858.8L2297.5 862L2307.5 858L2320 861.2L2330 865L2342.5 860.5L2352.5 860.5L2360 865.5L2367.5 857L2373 857L2376.2 863.8L2378.8 862L2383.8 866.2L2388 864.5L2388 947.5L187 947.5Z" fill="#ebeefc"/><path d="M1254 918.1L1255 918L1280 918.2L1287.5 916.5L1310 918.8L1320 915L1350 913.8L1362.5 914.8L1397.5 915.2L1400 915.5L1410 916.2L1418.8 913.2L1475 914L1482.5 915.8L1520 915L1550 914.5L1560 910.5L1580 908.8L1600 908L1607.5 905L1617.5 906.2L1635 905L1646.2 903.2L1652.5 905.8L1662.5 907.5L1677.5 905L1687.5 900.5L1698.8 900L1707.5 891.2L1718.8 888L1727.5 892.5L1736.2 888.2L1743.8 891.2L1751.2 888.8L1760 894.2L1766.2 891.8L1775 895.5L1785 893.8L1797.5 889.2L1807.5 890L1815 888L1825 891.2L1840 894.5L1843.8 893.8L1852.5 897L1865 891.2L1873.8 890L1880 892.5L1885 898.8L1890 895L1905 893L1917.5 898L1920 898.8L1932.5 894.2L1945 891.8L1951.2 894.5L1960 893.8L1967.5 890L1977.5 890L1982.5 887.5L1987.5 889.5L1996.2 877L2002.5 875.5L2007.5 871.2L2011.2 873.2L2025 871.2L2036.2 866.8L2040 872L2045 871.2L2047.5 873.8L2053.8 873L2058.8 869.5L2061.2 873.2L2066.2 873.2L2072.5 868L2080 868.8L2086.2 867L2090 870L2095 872.5L2113.8 872.5L2118.8 879.2L2125 877L2131.2 882.5L2140 879.5L2148.8 878.8L2157.5 881.2L2163.8 885L2168.8 880L2177.5 879.5L2181.2 873.8L2193.8 872.5L2200 867.5L2207.5 867L2213.8 863.8L2217.5 866.2L2230 869.2L2235 864.5L2247.5 868.8L2255 865.8L2265 865L2271.2 859.5L2290 858.8L2297.5 862L2307.5 858L2320 861.2L2330 865L2342.5 860.5L2352.5 860.5L2360 865.5L2367.5 857L2373 857L2376.2 863.8L2378.8 862L2383.8 866.2L2388 864.5L2388 947.5L1254 947.5Z" fill="#dce4f9"/><clipPath id="cu"><rect x="0" y="830" width="1254" height="120"/></clipPath><clipPath id="cs"><rect x="1254" y="830" width="1306" height="120"/></clipPath><path d="M187 926.2L222.5 926L227.5 925L267.5 924.5L270 925.5L320 924.5L355 921.2L382.5 920L395 917L407.5 912.5L413.8 906.8L417.5 911.2L425 909.2L430 912.5L435 913L437.5 910.5L440 911.5L450 905L462.5 898L471.2 904.5L477.5 902L485 896.2L495 896.2L498.8 899.2L507.5 895.5L515 896.2L522.5 893L527.5 895L533.8 901.2L542.5 896.2L553.8 896.2L562.5 908.8L567.5 910.5L571.2 908L573.8 910L577.5 908.5L586.2 911.2L592.5 907.5L600 911.2L607.5 912L615 910.5L627.5 912L633.8 913.8L640 908L645 906.2L648.8 908.8L656.2 903L662.5 902.5L665 904.2L671.2 901.2L682.5 901.2L687.5 899.5L691.2 903.8L701.2 902L705 905L713.8 906.2L722.5 898.8L731.2 896.2L738 891.8L741.2 894.2L755 893.8L761.2 891L770 894.5L777.5 895.5L780 897.5L783.8 895.8L790 900.5L805 902.5L811.2 900L820 902.5L827.5 906.2L838.8 905.5L843.8 910L856.2 908L862.5 904.5L870 905L877.5 908.8L883.8 908L886.2 904.5L891.2 907.5L895 906.2L898.8 908.8L910 905.5L917.5 902L925 903.2L935 907L942.5 906.2L952.5 908L958.8 907.5L967.5 913.8L977.5 914.2L987.5 913L1000 913.5L1006.2 918.8L1027.5 919.5L1045 917.5L1050 918.2L1075 916.5L1090 919.2L1105 918.8L1120 920.2L1150 919.5L1170 918.8L1173.8 921.8L1205 921.5L1242.5 921.2L1250 918.8L1255 918L1280 918.2L1287.5 916.5L1310 918.8L1320 915L1350 913.8L1362.5 914.8L1397.5 915.2L1400 915.5L1410 916.2L1418.8 913.2L1475 914L1482.5 915.8L1520 915L1550 914.5L1560 910.5L1580 908.8L1600 908L1607.5 905L1617.5 906.2L1635 905L1646.2 903.2L1652.5 905.8L1662.5 907.5L1677.5 905L1687.5 900.5L1698.8 900L1707.5 891.2L1718.8 888L1727.5 892.5L1736.2 888.2L1743.8 891.2L1751.2 888.8L1760 894.2L1766.2 891.8L1775 895.5L1785 893.8L1797.5 889.2L1807.5 890L1815 888L1825 891.2L1840 894.5L1843.8 893.8L1852.5 897L1865 891.2L1873.8 890L1880 892.5L1885 898.8L1890 895L1905 893L1917.5 898L1920 898.8L1932.5 894.2L1945 891.8L1951.2 894.5L1960 893.8L1967.5 890L1977.5 890L1982.5 887.5L1987.5 889.5L1996.2 877L2002.5 875.5L2007.5 871.2L2011.2 873.2L2025 871.2L2036.2 866.8L2040 872L2045 871.2L2047.5 873.8L2053.8 873L2058.8 869.5L2061.2 873.2L2066.2 873.2L2072.5 868L2080 868.8L2086.2 867L2090 870L2095 872.5L2113.8 872.5L2118.8 879.2L2125 877L2131.2 882.5L2140 879.5L2148.8 878.8L2157.5 881.2L2163.8 885L2168.8 880L2177.5 879.5L2181.2 873.8L2193.8 872.5L2200 867.5L2207.5 867L2213.8 863.8L2217.5 866.2L2230 869.2L2235 864.5L2247.5 868.8L2255 865.8L2265 865L2271.2 859.5L2290 858.8L2297.5 862L2307.5 858L2320 861.2L2330 865L2342.5 860.5L2352.5 860.5L2360 865.5L2367.5 857L2373 857L2376.2 863.8L2378.8 862L2383.8 866.2L2388 864.5" fill="none" stroke="#6484d8" stroke-width="1.1" clip-path="url(#cu)"/><path d="M187 926.2L222.5 926L227.5 925L267.5 924.5L270 925.5L320 924.5L355 921.2L382.5 920L395 917L407.5 912.5L413.8 906.8L417.5 911.2L425 909.2L430 912.5L435 913L437.5 910.5L440 911.5L450 905L462.5 898L471.2 904.5L477.5 902L485 896.2L495 896.2L498.8 899.2L507.5 895.5L515 896.2L522.5 893L527.5 895L533.8 901.2L542.5 896.2L553.8 896.2L562.5 908.8L567.5 910.5L571.2 908L573.8 910L577.5 908.5L586.2 911.2L592.5 907.5L600 911.2L607.5 912L615 910.5L627.5 912L633.8 913.8L640 908L645 906.2L648.8 908.8L656.2 903L662.5 902.5L665 904.2L671.2 901.2L682.5 901.2L687.5 899.5L691.2 903.8L701.2 902L705 905L713.8 906.2L722.5 898.8L731.2 896.2L738 891.8L741.2 894.2L755 893.8L761.2 891L770 894.5L777.5 895.5L780 897.5L783.8 895.8L790 900.5L805 902.5L811.2 900L820 902.5L827.5 906.2L838.8 905.5L843.8 910L856.2 908L862.5 904.5L870 905L877.5 908.8L883.8 908L886.2 904.5L891.2 907.5L895 906.2L898.8 908.8L910 905.5L917.5 902L925 903.2L935 907L942.5 906.2L952.5 908L958.8 907.5L967.5 913.8L977.5 914.2L987.5 913L1000 913.5L1006.2 918.8L1027.5 919.5L1045 917.5L1050 918.2L1075 916.5L1090 919.2L1105 918.8L1120 920.2L1150 919.5L1170 918.8L1173.8 921.8L1205 921.5L1242.5 921.2L1250 918.8L1255 918L1280 918.2L1287.5 916.5L1310 918.8L1320 915L1350 913.8L1362.5 914.8L1397.5 915.2L1400 915.5L1410 916.2L1418.8 913.2L1475 914L1482.5 915.8L1520 915L1550 914.5L1560 910.5L1580 908.8L1600 908L1607.5 905L1617.5 906.2L1635 905L1646.2 903.2L1652.5 905.8L1662.5 907.5L1677.5 905L1687.5 900.5L1698.8 900L1707.5 891.2L1718.8 888L1727.5 892.5L1736.2 888.2L1743.8 891.2L1751.2 888.8L1760 894.2L1766.2 891.8L1775 895.5L1785 893.8L1797.5 889.2L1807.5 890L1815 888L1825 891.2L1840 894.5L1843.8 893.8L1852.5 897L1865 891.2L1873.8 890L1880 892.5L1885 898.8L1890 895L1905 893L1917.5 898L1920 898.8L1932.5 894.2L1945 891.8L1951.2 894.5L1960 893.8L1967.5 890L1977.5 890L1982.5 887.5L1987.5 889.5L1996.2 877L2002.5 875.5L2007.5 871.2L2011.2 873.2L2025 871.2L2036.2 866.8L2040 872L2045 871.2L2047.5 873.8L2053.8 873L2058.8 869.5L2061.2 873.2L2066.2 873.2L2072.5 868L2080 868.8L2086.2 867L2090 870L2095 872.5L2113.8 872.5L2118.8 879.2L2125 877L2131.2 882.5L2140 879.5L2148.8 878.8L2157.5 881.2L2163.8 885L2168.8 880L2177.5 879.5L2181.2 873.8L2193.8 872.5L2200 867.5L2207.5 867L2213.8 863.8L2217.5 866.2L2230 869.2L2235 864.5L2247.5 868.8L2255 865.8L2265 865L2271.2 859.5L2290 858.8L2297.5 862L2307.5 858L2320 861.2L2330 865L2342.5 860.5L2352.5 860.5L2360 865.5L2367.5 857L2373 857L2376.2 863.8L2378.8 862L2383.8 866.2L2388 864.5" fill="none" stroke="#9fb0ea" stroke-width="1.1" clip-path="url(#cs)"/><rect x="1241.5" y="877" width="28" height="32.5" rx="11" fill="#32343f"/><rect x="1251.3" y="887.5" width="1.700" height="12" fill="#a4a6b4"/><rect x="1257.8" y="887.5" width="1.700" height="12" fill="#a4a6b4"/><rect x="2372.5" y="877" width="28" height="32.5" rx="11" fill="#32343f"/><rect x="2382.3" y="887.5" width="1.700" height="12" fill="#a4a6b4"/><rect x="2388.8" y="887.5" width="1.700" height="12" fill="#a4a6b4"/><text x="232" y="830.6" text-anchor="middle" class="xl">17 Feb</text><text x="325.4" y="830.6" text-anchor="middle" class="xl">31 Mar</text><text x="418.7" y="830.6" text-anchor="middle" class="xl">23 May</text><text x="512.1" y="830.6" text-anchor="middle" class="xl">4 Jul</text><text x="605.5" y="830.6" text-anchor="middle" class="xl">15 Aug</text><text x="698.9" y="830.6" text-anchor="middle" class="xl">26 Sep</text><text x="792.2" y="830.6" text-anchor="middle" class="xl">7 Nov</text><text x="885.6" y="830.6" text-anchor="middle" class="xl">19 Dec</text><text x="979" y="830.6" text-anchor="middle" class="xl">30 Jan</text><text x="1072.3" y="830.6" text-anchor="middle" class="xl">12 Mar</text><text x="1165.7" y="830.6" text-anchor="middle" class="xl">23 Apr</text><text x="1259.1" y="830.6" text-anchor="middle" class="xl">4 Jun</text><text x="1352.4" y="830.6" text-anchor="middle" class="xl">16 Jul</text><text x="1445.8" y="830.6" text-anchor="middle" class="xl">27 Aug</text><text x="1539.2" y="830.6" text-anchor="middle" class="xl">8 Oct</text><text x="1632.6" y="830.6" text-anchor="middle" class="xl">19 Nov</text><text x="1725.9" y="830.6" text-anchor="middle" class="xl">31 Dec</text><text x="1819.3" y="830.6" text-anchor="middle" class="xl">11 Feb</text><text x="1912.7" y="830.6" text-anchor="middle" class="xl">25 Mar</text><text x="2006" y="830.6" text-anchor="middle" class="xl">6 May</text><text x="2099.4" y="830.6" text-anchor="middle" class="xl">17 Jun</text><text x="2192.8" y="830.6" text-anchor="middle" class="xl">29 Jul</text><text x="2286.1" y="830.6" text-anchor="middle" class="xl">9 Sep</text><text x="2379.5" y="830.6" text-anchor="middle" class="xl">21 Oct</text></svg>
<div class="title"><span style="left:22.00px;letter-spacing:-1.520px">Total</span> <span style="left:113.00px;letter-spacing:-3.733px">BTC</span> <span style="left:190.60px;letter-spacing:-1.686px">Options</span> <span style="left:332.40px;letter-spacing:-1.750px">Open</span> <span style="left:432.00px;letter-spacing:-1.100px">Interest</span> </div>
<div class="seg"><div class="pill"></div><span style="left:5px">BTC</span><span style="left:118px">ETH</span></div>
<div class="usd"><span>USD</span><svg width="20" height="30" viewBox="0 0 20 30"><path d="M4 10.800L10 4.800l6 6M4 19.700L10 25.700l6-6" fill="none" stroke="#666" stroke-width="2.600" stroke-linecap="round" stroke-linejoin="round"/></svg></div>
<div class="legend"><i style="left:1117.5px;background:#e5bc5e"></i><span style="left:1146px;letter-spacing:0px">BTC Price</span><i style="left:1268px;background:#6bcb85"></i><span style="left:1297px;letter-spacing:1.05px">Open Interest</span></div>
</body></html>
